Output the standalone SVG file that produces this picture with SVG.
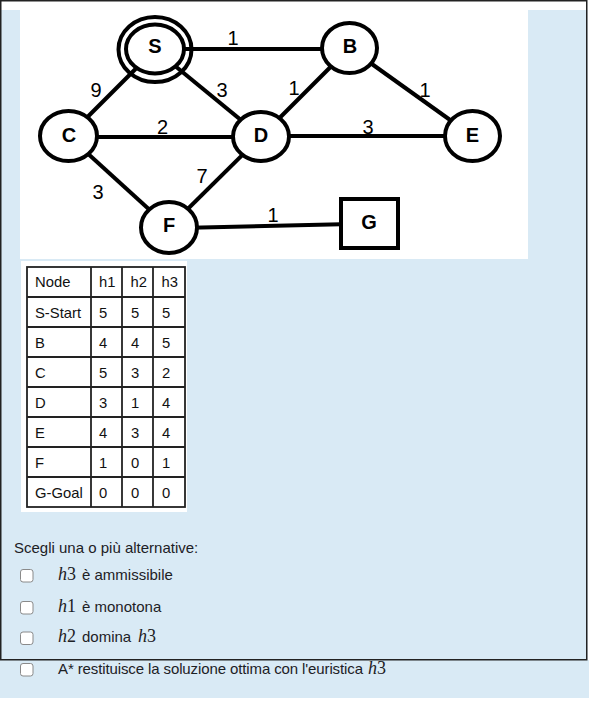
<svg xmlns="http://www.w3.org/2000/svg" width="589" height="704" viewBox="0 0 589 704">
<style>
.edge{stroke:#000;stroke-width:4;fill:none;stroke-linecap:butt}
.node{stroke:#000;stroke-width:4;fill:#fff}
.ring{stroke:#000;stroke-width:4;fill:none}
.nlab{font-family:"Liberation Sans",Arial,sans-serif;font-weight:bold;font-size:20px;fill:#000;text-anchor:middle}
.wlab{font-family:"Liberation Sans",Arial,sans-serif;font-size:20px;fill:#000;text-anchor:middle}
.tline{stroke:#222;stroke-width:1.8;fill:none}
.ttxt{font-family:"Liberation Sans",Arial,sans-serif;font-size:14.8px;fill:#111}
.q{font-family:"Liberation Sans",Arial,sans-serif;font-size:15px;fill:#1d2125}
.m{font-family:"Liberation Serif","Times New Roman",serif;font-size:18px;fill:#1d2125}
.cb{fill:#fff;stroke:#8a8a8a;stroke-width:1;}
</style>
<rect x="0" y="0" width="589" height="704" fill="#fff"/>
<rect x="0" y="10" width="589" height="688" fill="#d9eaf5"/>
<rect x="587.5" y="0" width="2" height="660" fill="#fff"/>
<rect x="20" y="0" width="508" height="259" fill="#fff"/>
<rect x="21" y="261" width="166" height="251" fill="#fff"/>
<rect x="0.75" y="0.75" width="586" height="659" fill="none" stroke="#222" stroke-width="1.5"/>

<g id="connectors">
<line class="edge" x1="155" y1="49" x2="349.5" y2="49"/>
<line class="edge" x1="155" y1="49.5" x2="68.5" y2="136"/>
<line class="edge" x1="155" y1="49.5" x2="261" y2="136.5"/>
<line class="edge" x1="349.5" y1="48" x2="261" y2="136.5"/>
<line class="edge" x1="349.5" y1="48" x2="472.5" y2="136"/>
<line class="edge" x1="68.5" y1="137" x2="261" y2="137"/>
<line class="edge" x1="261" y1="136" x2="472.5" y2="136"/>
<line class="edge" x1="68.5" y1="136" x2="169" y2="227.5"/>
<line class="edge" x1="261" y1="136.5" x2="169" y2="227.5"/>
<line class="edge" x1="169" y1="228.2" x2="341" y2="224.2"/>
<text class="wlab" x="233" y="45">1</text>
<text class="wlab" x="96" y="97">9</text>
<text class="wlab" x="222" y="97">3</text>
<text class="wlab" x="294" y="95">1</text>
<text class="wlab" x="425" y="97">1</text>
<text class="wlab" x="162.5" y="134">2</text>
<text class="wlab" x="368" y="133.5">3</text>
<text class="wlab" x="98" y="199">3</text>
<text class="wlab" x="202" y="182.5">7</text>
<text class="wlab" x="273" y="221.5">1</text>
</g>

<g id="node-S">
<ellipse class="ring" cx="155" cy="49.5" rx="36.5" ry="32.5"/>
<ellipse class="node" cx="155" cy="49" rx="29" ry="24.5"/>
<text class="nlab" x="155" y="53">S</text>
</g>
<g id="node-B">
<ellipse class="node" cx="349.5" cy="48" rx="27.5" ry="25"/>
<text class="nlab" x="350" y="53">B</text>
</g>
<g id="node-C">
<ellipse class="node" cx="68.5" cy="136" rx="28.5" ry="25"/>
<text class="nlab" x="69" y="141.5">C</text>
</g>
<g id="node-D">
<ellipse class="node" cx="261" cy="136.5" rx="28" ry="24.5"/>
<text class="nlab" x="261" y="141.5">D</text>
</g>
<g id="node-E">
<ellipse class="node" cx="472.5" cy="136" rx="27.5" ry="25"/>
<text class="nlab" x="472.5" y="141.5">E</text>
</g>
<g id="node-F">
<ellipse class="node" cx="169" cy="227.5" rx="28" ry="25.5"/>
<text class="nlab" x="169" y="231.5">F</text>
</g>
<g id="node-G">
<rect class="node" x="341" y="199" width="57" height="49" stroke-width="4.5"/>
<text class="nlab" x="369" y="229">G</text>
</g>

<g id="table">
<rect class="tline" x="27" y="267" width="158" height="240"/>
<line class="tline" x1="91" y1="267" x2="91" y2="507"/>
<line class="tline" x1="122" y1="267" x2="122" y2="507"/>
<line class="tline" x1="153" y1="267" x2="153" y2="507"/>
<line class="tline" x1="27" y1="297" x2="185" y2="297"/>
<line class="tline" x1="27" y1="327" x2="185" y2="327"/>
<line class="tline" x1="27" y1="357" x2="185" y2="357"/>
<line class="tline" x1="27" y1="387" x2="185" y2="387"/>
<line class="tline" x1="27" y1="417" x2="185" y2="417"/>
<line class="tline" x1="27" y1="447" x2="185" y2="447"/>
<line class="tline" x1="27" y1="477" x2="185" y2="477"/>
<g class="ttxt">
<text x="35" y="287">Node</text><text x="99" y="287">h1</text><text x="130.5" y="287">h2</text><text x="161.5" y="287">h3</text>
<text x="35" y="317.5">S-Start</text><text x="99" y="317.5">5</text><text x="131" y="317.5">5</text><text x="162" y="317.5">5</text>
<text x="35" y="347.5">B</text><text x="99" y="347.5">4</text><text x="131" y="347.5">4</text><text x="162" y="347.5">5</text>
<text x="35" y="377.5">C</text><text x="99" y="377.5">5</text><text x="131" y="377.5">3</text><text x="162" y="377.5">2</text>
<text x="35" y="407.5">D</text><text x="99" y="407.5">3</text><text x="131" y="407.5">1</text><text x="162" y="407.5">4</text>
<text x="35" y="437.5">E</text><text x="99" y="437.5">4</text><text x="131" y="437.5">3</text><text x="162" y="437.5">4</text>
<text x="35" y="467.5">F</text><text x="99" y="467.5">1</text><text x="131" y="467.5">0</text><text x="162" y="467.5">1</text>
<text x="35" y="497.5">G-Goal</text><text x="99" y="497.5">0</text><text x="131" y="497.5">0</text><text x="162" y="497.5">0</text>
</g>
</g>

<g id="question">
<text class="q" x="14" y="553">Scegli una o più alternative:</text>
<rect class="cb" x="20.5" y="569.5" width="12.5" height="12.5" rx="2.5"/>
<text class="m" x="58" y="580"><tspan font-style="italic">h</tspan>3</text>
<text class="q" x="82" y="580">è ammissibile</text>
<rect class="cb" x="20.5" y="601.5" width="12.5" height="12.5" rx="2.5"/>
<text class="m" x="58" y="611.5"><tspan font-style="italic">h</tspan>1</text>
<text class="q" x="82" y="611.5">è monotona</text>
<rect class="cb" x="20.5" y="632" width="12.5" height="12.5" rx="2.5"/>
<text class="m" x="58" y="641.5"><tspan font-style="italic">h</tspan>2</text>
<text class="q" x="82" y="641.5">domina</text>
<text class="m" x="138" y="641.5"><tspan font-style="italic">h</tspan>3</text>
<rect class="cb" x="20.5" y="663.5" width="12.5" height="12.5" rx="2.5"/>
<text class="q" x="58" y="673.5" textLength="305" lengthAdjust="spacing">A* restituisce la soluzione ottima con l'euristica</text>
<text class="m" x="368" y="673.5"><tspan font-style="italic">h</tspan>3</text>
</g>
</svg>
